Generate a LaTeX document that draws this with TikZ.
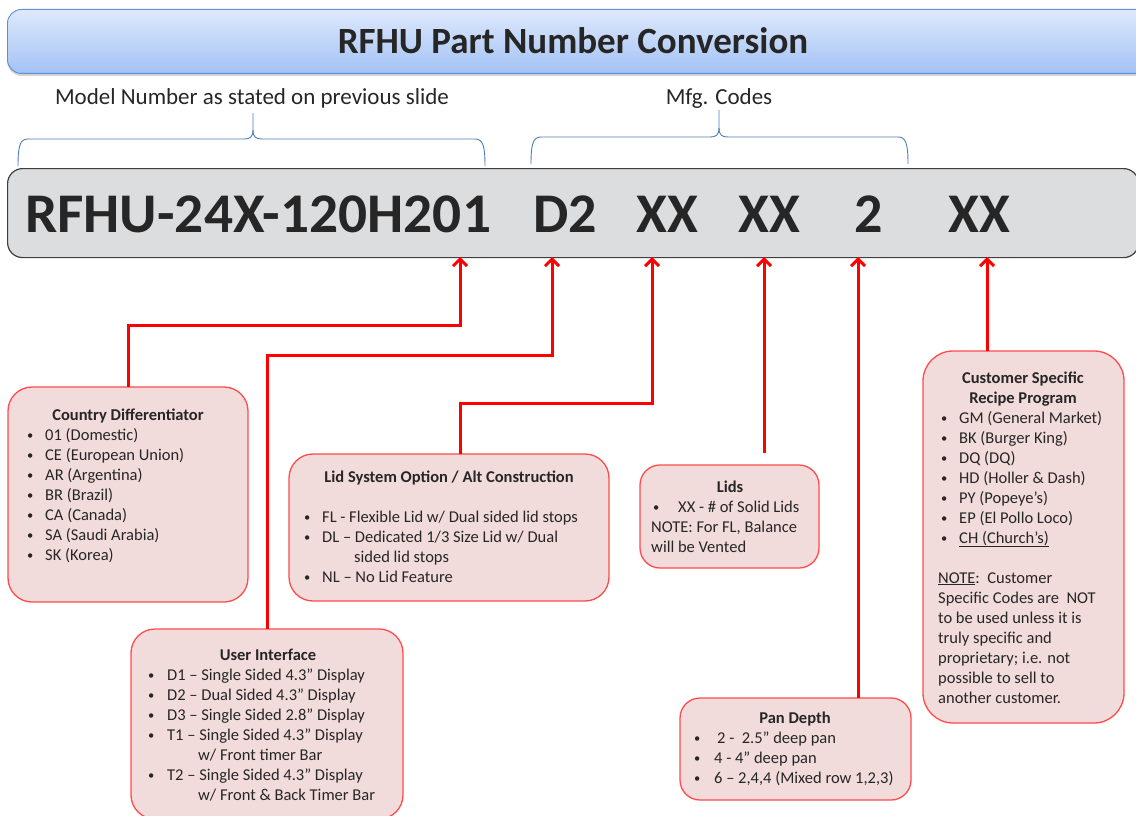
\documentclass[tikz,border=0pt]{standalone}
\usepackage{fontspec}
\usepackage{graphicx}
\setmainfont{Carlito}
\usetikzlibrary{arrows.meta,shadows}
\definecolor{bubfill}{HTML}{F2DCDB}
\definecolor{bubline}{HTML}{FF4B4B}
\definecolor{conred}{HTML}{FF0000}
\definecolor{codefill}{HTML}{DCDDDF}
\definecolor{codeline}{HTML}{3F3F3F}
\definecolor{bartop}{HTML}{DEE9FC}
\definecolor{barbot}{HTML}{A3C2F5}
\definecolor{barline}{HTML}{5F8FD6}
\definecolor{bracecol}{HTML}{4A7EBB}
\definecolor{txt}{HTML}{262626}
\newcommand{\smbul}{\raisebox{0.6pt}{\fontsize{12.5}{12.5}\selectfont •}}
\newcommand{\bul}[2]{\makebox[#1][l]{\smbul}#2}
\begin{document}
\begin{tikzpicture}[x=1pt,y=-1pt,
  bubble/.style={draw=bubline, fill=bubfill, line width=1.3pt, rounded corners=24pt, inner sep=0pt, outer sep=0pt, anchor=north west},
  conn/.style={draw=conred, line width=3pt, -{Straight Barb[length=7pt,width=14pt]}},
  hd/.style={font=\fontsize{16.5}{20}\selectfont\bfseries, text=txt, anchor=base, inner sep=0pt},
  body/.style={font=\fontsize{16.5}{20}\selectfont, text=txt, anchor=base west, inner sep=0pt},
  lbl/.style={font=\fontsize{23}{26}\selectfont, text=txt, anchor=base, inner sep=0pt},
  brace/.style={draw=bracecol, line width=0.9pt},
  codetxt/.style={font=\fontsize{56}{60}\selectfont\bfseries, text=txt, anchor=base west, inner sep=0pt}
]
\useasboundingbox (0,0) rectangle (1136,816);
\clip (0,0) rectangle (1136,816);

% title bar
\node[draw=barline, line width=0.9pt, top color=bartop, bottom color=barbot, rounded corners=14pt,
      minimum width=1150pt, minimum height=64pt, anchor=north west, inner sep=0pt,
      drop shadow={shadow xshift=0pt, shadow yshift=-2.5pt, opacity=0.35}] (bar) at (7,9) {};
\node[font=\fontsize{37}{40}\selectfont\bfseries, text=txt, anchor=base, inner sep=0pt] (title) at (573,54) {RFHU Part Number Conversion};

% labels and braces
\node[lbl] (lblmodel) at (252,105) {Model Number as stated on previous slide};
\node[lbl] (lblmfg) at (719,105) {Mfg. Codes};
\draw[brace] (18,166) .. controls (18,146) and (20,139) .. (28,139) -- (244,139)
   .. controls (250,139) and (253,137) .. (253,130) -- (253,113);
\draw[brace] (253,130) .. controls (253,137) and (256,139) .. (262,139) -- (475,139)
   .. controls (483,139) and (485,146) .. (485,166);
\draw[brace] (531,164) .. controls (531,144) and (533,137) .. (541,137) -- (710,137)
   .. controls (716,137) and (719,135) .. (719,128) -- (719,110);
\draw[brace] (719,128) .. controls (719,135) and (722,137) .. (728,137) -- (898,137)
   .. controls (906,137) and (908,144) .. (908,164);

% code box
\node[draw=codeline, fill=codefill, line width=1.2pt, rounded corners=15pt, minimum width=1131pt,
      minimum height=89pt, anchor=north west, inner sep=0pt] (code) at (7,168) {};
\node[codetxt] (c1) at (25,232) {\scalebox{1.024}[1]{RFHU-24X-120H201}};
\node[codetxt] (c2) at (533,232) {D2};
\node[codetxt] (c3) at (636,232) {XX};
\node[codetxt] (c4) at (738,232) {XX};
\node[codetxt] (c5) at (854,232) {2};
\node[codetxt] (c6) at (948,232) {XX};

% bubbles
\node[bubble, minimum width=240pt, minimum height=215pt] (country) at (8,387) {};
\node[bubble, minimum width=272pt, minimum height=190pt] (ui) at (131,629) {};
\node[bubble, minimum width=320pt, minimum height=147pt] (lid) at (289,454) {};
\node[bubble, minimum width=179pt, minimum height=103pt, rounded corners=20pt] (lids) at (640,465) {};
\node[bubble, minimum width=231pt, minimum height=102pt, rounded corners=20pt] (pan) at (680,698) {};
\node[bubble, minimum width=201pt, minimum height=372pt, rounded corners=30pt] (cust) at (923,351) {};

% bubble texts
\node[hd] (countryhd) at (128,420) {Country Differentiator};
\node[body] (countrybody) at (27,440) {\parbox[t]{215pt}{%
\bul{18pt}{01 (Domestic)}\\
\bul{18pt}{CE (European Union)}\\
\bul{18pt}{AR (Argentina)}\\
\bul{18pt}{BR (Brazil)}\\
\bul{18pt}{CA (Canada)}\\
\bul{18pt}{SA (Saudi Arabia)}\\
\bul{18pt}{SK (Korea)}}};

\node[hd] (uihd) at (268,660) {User Interface};
\node[body] (uibody) at (148,680) {\parbox[t]{250pt}{%
\bul{19pt}{D1 – Single Sided 4.3” Display}\\
\bul{19pt}{D2 – Dual Sided 4.3” Display}\\
\bul{19pt}{D3 – Single Sided 2.8” Display}\\
\bul{19pt}{T1 – Single Sided 4.3” Display}\\
\hspace*{50pt}w/ Front timer Bar\\
\bul{19pt}{T2 – Single Sided 4.3” Display}\\
\hspace*{50pt}w/ Front \& Back Timer Bar}};

\node[hd] (lidhd) at (449,482) {Lid System Option / Alt Construction};
\node[body] (lidbody) at (304,522) {\parbox[t]{300pt}{%
\bul{18pt}{FL - Flexible Lid w/ Dual sided lid stops}\\
\bul{18pt}{DL – Dedicated 1/3 Size Lid w/ Dual}\\
\hspace*{50pt}sided lid stops\\
\bul{18pt}{NL – No Lid Feature}}};

\node[hd] (lidshd) at (730,492) {Lids};
\node[body] (lidsbody) at (651,512) {\parbox[t]{170pt}{%
\hspace*{2pt}\bul{25pt}{XX - \# of Solid Lids}\\
NOTE: For FL, Balance\\
will be Vented}};

\node[hd] (panhd) at (795,723) {Pan Depth};
\node[body] (panbody) at (694,743) {\parbox[t]{215pt}{%
\bul{23pt}{2 -\ \ 2.5” deep pan}\\
\bul{20pt}{4 - 4” deep pan}\\
\bul{20pt}{6 – 2,4,4 (Mixed row 1,2,3)}}};

\node[hd] (custhd1) at (1023,383) {Customer Specific};
\node[hd] (custhd2) at (1023,403) {Recipe Program};
\node[body] (custbody) at (938,423) {\parbox[t]{185pt}{%
\hspace*{3pt}\bul{18pt}{GM (General Market)}\\
\hspace*{3pt}\bul{18pt}{BK (Burger King)}\\
\hspace*{3pt}\bul{18pt}{DQ (DQ)}\\
\hspace*{3pt}\bul{18pt}{HD (Holler \& Dash)}\\
\hspace*{3pt}\bul{18pt}{PY (Popeye’s)}\\
\hspace*{3pt}\bul{18pt}{EP (El Pollo Loco)}\\
\hspace*{3pt}\bul{18pt}{\underline{CH (Church’s)}}\\
\mbox{}\\
\underline{NOTE}:\ \ Customer\\
Specific Codes are\ \ NOT\\
to be used unless it is\\
truly specific and\\
proprietary; i.e. not\\
possible to sell to\\
another customer.}};

% connector targets
\coordinate (t1) at (460,257);
\coordinate (t2) at (552,257);
\coordinate (t3) at (652,257);
\coordinate (t4) at (764,257);
\coordinate (t5) at (858,257);
\coordinate (t6) at (987,257);
\coordinate (j1) at (460,325);
\coordinate (j2) at (552,355);
\coordinate (j3) at (460,403);
\coordinate (j3b) at (652,403);

% connectors
\draw[conn] (country.north) |- (j1) -- (t1);
\draw[conn] (ui.north) |- (j2) -- (t2);
\draw[conn] (lid.north -| j3) -- (j3) -- (j3b) -- (t3);
\draw[conn, shorten <=12pt] (lids.north -| t4) -- (t4);
\draw[conn] (pan.north -| t5) -- (t5);
\draw[conn] (cust.north -| t6) -- (t6);
\end{tikzpicture}
\end{document}
